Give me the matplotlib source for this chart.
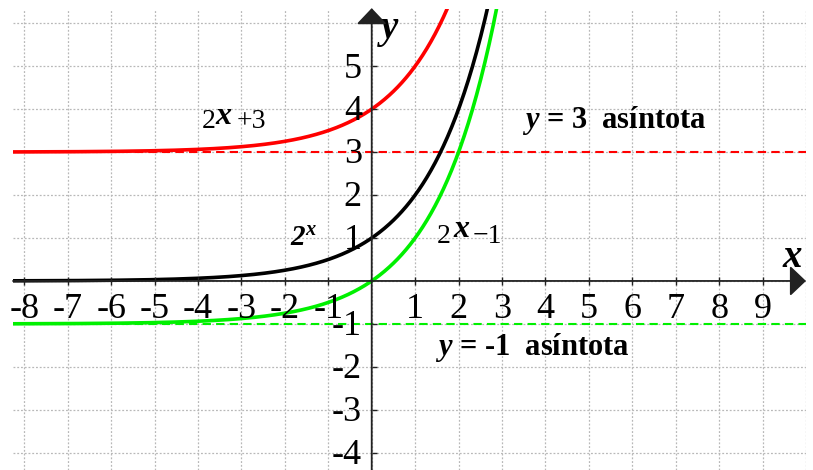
import numpy as np
import matplotlib
matplotlib.use('Agg')
import matplotlib.pyplot as plt

plt.rcParams['font.family'] = ['Liberation Serif', 'DejaVu Serif']
plt.rcParams['mathtext.fontset'] = 'custom'
plt.rcParams['mathtext.rm'] = 'Liberation Serif'
plt.rcParams['mathtext.it'] = 'Liberation Serif:italic'
plt.rcParams['mathtext.bf'] = 'Liberation Serif:bold'
plt.rcParams['mathtext.bfit'] = 'Liberation Serif:italic:bold'

# Data: y = 2^x shifted up / down
base = 2
shifts = [3, 0, -1]
curve_colors = ['#ff0000', '#000000', '#00f000']
asymptotes = [3, -1]
asymptote_colors = ['#ff0000', '#00f000']

x_ticks = [-8, -7, -6, -5, -4, -3, -2, -1, 1, 2, 3, 4, 5, 6, 7, 8, 9]
x_tick_labels = ['-8', '-7', '-6', '-5', '-4', '-3', '-2', '-1',
                 '1', '2', '3', '4', '5', '6', '7', '8', '9']
y_ticks = [-4, -3, -2, -1, 1, 2, 3, 4, 5]
y_tick_labels = ['-4', '-3', '-2', '-1', '1', '2', '3', '4', '5']

x_min, x_max = -8.26, 10.0
y_min, y_max = -4.40, 6.33

fig = plt.figure(figsize=(8.13, 4.70), dpi=100)
ax = fig.add_axes([13 / 813, 0, (806 - 13) / 813, (470 - 9) / 470])
ax.set_xlim(x_min, x_max)
ax.set_ylim(y_min, y_max)

# Grid
ax.set_xticks(range(-8, 11))
ax.set_yticks(range(-4, 7))
ax.tick_params(length=0, labelbottom=False, labelleft=False)
ax.grid(True, color='#b8b8b8', lw=0.9, linestyle=(0, (1.5, 1.5)))
for s in ax.spines.values():
    s.set_visible(False)

# Asymptotes
for a, c in zip(asymptotes, asymptote_colors):
    ax.axhline(a, color=c, lw=1.5, dashes=(4, 2.5), zorder=2)

# Curves
x = np.linspace(x_min, 3.2, 600)
for sh, c in zip(shifts, curve_colors):
    ax.plot(x, np.power(base, x) + sh, color=c, lw=2.6, zorder=3,
            solid_capstyle='butt')

# Axes with arrows
axis_col = '#222222'
arrow_style = '-|>,head_length=1.0,head_width=0.95'
ax.annotate('', xy=(x_max, 0), xytext=(x_min, 0),
            arrowprops=dict(arrowstyle=arrow_style, mutation_scale=10,
                            color=axis_col, lw=1.3, shrinkA=0, shrinkB=0),
            annotation_clip=False, zorder=4)
ax.annotate('', xy=(0, y_max + 0.02), xytext=(0, y_min),
            arrowprops=dict(arrowstyle=arrow_style, mutation_scale=10,
                            color=axis_col, lw=1.3, shrinkA=0, shrinkB=0),
            annotation_clip=False, zorder=4)

# Tick marks
ax.plot(x_ticks, [0] * len(x_ticks), ls='none', marker='|', ms=5.8,
        mew=1.0, color=axis_col, zorder=4)
ax.plot([0] * len(y_ticks), y_ticks, ls='none', marker=1, ms=3.5,
        mew=1.0, color=axis_col, zorder=4)

# Tick labels
for v, lab in zip(x_ticks, x_tick_labels):
    ax.annotate(lab, xy=(v, 0), xytext=(0, -26.7), textcoords='offset points',
                ha='center', va='baseline', fontsize=26)
for v, lab in zip(y_ticks, y_tick_labels):
    ax.annotate(lab, xy=(0, v), xytext=(-7, -8.2), textcoords='offset points',
                ha='right', va='baseline', fontsize=26)

# Axis names
ax.text(0.12, 5.66, r'$\mathbfit{y}$', fontsize=28, ha='left', va='baseline')
ax.text(9.44, 0.33, r'$\mathbfit{x}$', fontsize=28, ha='left', va='baseline')

# Curve labels
def piece_label(x0, y0, pieces):
    for txt, dx, dy, size in pieces:
        ax.annotate(txt, xy=(x0, y0), xytext=(dx, dy), textcoords='offset points',
                    ha='left', va='baseline', fontsize=size)

piece_label(-3.91, 3.55, [('2', 0, 0, 20), (r'$\mathbfit{x}$', 9.4, 2.9, 23),
                          ('+3', 25.2, 0, 20)])
piece_label(1.5, 0.89, [('2', 0, 0, 20), (r'$\mathbfit{x}$', 11.3, 4.3, 23),
                        ('\u22121', 25.5, 0, 20)])
ax.text(-1.88, 0.83, r'$\mathbfit{2}^{\mathbfit{x}}$', fontsize=21,
        ha='left', va='baseline')

# Asymptote notes
ax.text(3.455, 3.55, r'$\mathbfit{y}$ = 3  asíntota', fontsize=22,
        fontweight='bold', ha='left', va='baseline')
ax.text(1.46, -1.726, r'$\mathbfit{y}$ = -1  asíntota', fontsize=22,
        fontweight='bold', ha='left', va='baseline')

fig.savefig('out.png', dpi=100)
